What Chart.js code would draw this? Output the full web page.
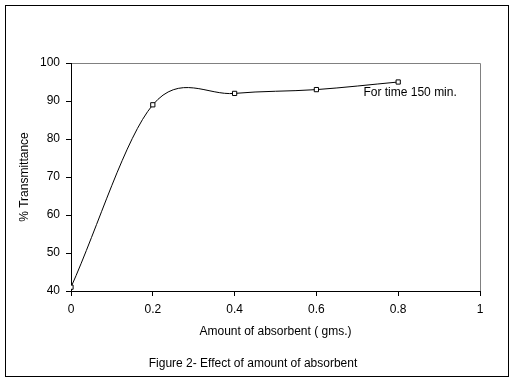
<!DOCTYPE html>
<html>
<head>
<meta charset="utf-8">
<script src="https://cdn.jsdelivr.net/npm/chart.js@4/dist/chart.umd.min.js"></script>
<style>
html,body{margin:0;padding:0;background:#fff;}
#wrap{width:516px;height:383px;position:relative;}
</style>
</head>
<body>
<div id="wrap"><canvas id="c" width="516" height="383"></canvas></div>
<script>
const amounts = [0, 0.2, 0.4, 0.6, 0.8];
const transmittance = [41, 89, 92, 93, 95];
const xTicks = [0, 0.2, 0.4, 0.6, 0.8, 1];
const yTicks = [40, 50, 60, 70, 80, 90, 100];
const xTitle = 'Amount of absorbent ( gms.)';
const yTitle = '% Transmittance';
const caption = 'Figure 2- Effect of amount of absorbent';
const annotationText = 'For time 150 min.';
const annotationAt = [0.715, 91.3];

const FONT = '12px "Liberation Sans", Arial, sans-serif';

// Excel-style smoothing: Catmull-Rom control points from the library's own point positions
const excelSmooth = {
  id: 'excelSmooth',
  beforeDatasetDraw(chart, args) {
    const meta = args.meta;
    const line = meta.dataset;
    if (line && typeof line.updateControlPoints === 'function') {
      line.updateControlPoints(chart.chartArea, meta.indexAxis);
    }
    const pts = meta.data;
    const n = pts.length;
    for (let i = 0; i < n; i++) {
      const p = pts[i];
      if (i === 0) {
        const nx = pts[1];
        p.cp1x = p.x; p.cp1y = p.y;
        p.cp2x = p.x + (nx.x - p.x) / 3; p.cp2y = p.y + (nx.y - p.y) / 3;
      } else if (i === n - 1) {
        const pv = pts[i - 1];
        p.cp1x = p.x - (p.x - pv.x) / 3; p.cp1y = p.y - (p.y - pv.y) / 3;
        p.cp2x = p.x; p.cp2y = p.y;
      } else {
        const pv = pts[i - 1], nx = pts[i + 1];
        const dx = (nx.x - pv.x) / 6, dy = (nx.y - pv.y) / 6;
        p.cp1x = p.x - dx; p.cp1y = p.y - dy;
        p.cp2x = p.x + dx; p.cp2y = p.y + dy;
      }
    }
    if (line) { line._path = undefined; }
  }
};

const decor = {
  id: 'decor',
  beforeDraw(chart) {
    const ctx = chart.ctx, a = chart.chartArea;
    ctx.save();
    ctx.fillStyle = '#fff';
    ctx.fillRect(0, 0, chart.width, chart.height);
    ctx.strokeStyle = '#000';
    ctx.lineWidth = 1;
    ctx.strokeRect(5.5, 5.5, 503, 371);
    ctx.strokeStyle = '#808080';
    ctx.beginPath();
    ctx.moveTo(Math.round(a.left) + 0.5, Math.round(a.top) + 0.5);
    ctx.lineTo(Math.round(a.right) + 0.5, Math.round(a.top) + 0.5);
    ctx.lineTo(Math.round(a.right) + 0.5, Math.round(a.bottom) + 0.5);
    ctx.stroke();
    ctx.restore();
  },
  afterDraw(chart) {
    const ctx = chart.ctx, a = chart.chartArea;
    const xs = chart.scales.x, ys = chart.scales.y;
    ctx.save();
    ctx.fillStyle = '#000';
    ctx.font = FONT;
    ctx.textAlign = 'center';
    ctx.textBaseline = 'middle';
    ctx.fillText(xTitle, (a.left + a.right) / 2, 332);
    ctx.fillText(caption, 253, 364);
    ctx.save();
    ctx.translate(25, (a.top + a.bottom) / 2);
    ctx.rotate(-Math.PI / 2);
    ctx.fillText(yTitle, 0, 0);
    ctx.restore();
    ctx.textAlign = 'left';
    ctx.textBaseline = 'alphabetic';
    ctx.fillText(annotationText, xs.getPixelForValue(annotationAt[0]), ys.getPixelForValue(annotationAt[1]));
    ctx.restore();
  }
};

new Chart(document.getElementById('c'), {
  type: 'line',
  data: {
    labels: amounts,
    datasets: [{
      data: amounts.map((x, i) => ({x: x, y: transmittance[i]})),
      borderColor: '#000',
      borderWidth: 1,
      tension: 0.4,
      pointStyle: 'rect',
      pointRadius: 3,
      pointBorderWidth: 1,
      pointBackgroundColor: '#fff',
      pointBorderColor: '#000',
      fill: false
    }]
  },
  options: {
    responsive: false,
    animation: false,
    devicePixelRatio: 1,
    layout: {padding: {top: 63, right: 36, left: 0, bottom: 0}},
    plugins: {legend: {display: false}, tooltip: {enabled: false}, title: {display: false}},
    scales: {
      x: {
        type: 'linear',
        min: 0, max: 1,
        afterBuildTicks(s) { s.ticks = xTicks.map(v => ({value: v})); },
        afterFit(s) { s.height = 92; },
        grid: {drawOnChartArea: false, drawTicks: true, tickLength: 5, color: '#000'},
        border: {display: true, color: '#000', width: 1},
        ticks: {color: '#000', font: {family: '"Liberation Sans", Arial, sans-serif', size: 12}, padding: 6, maxRotation: 0,
          callback: v => String(v)}
      },
      y: {
        type: 'linear',
        min: 40, max: 100,
        afterBuildTicks(s) { s.ticks = yTicks.map(v => ({value: v})); },
        afterFit(s) { s.width = 71; },
        grid: {drawOnChartArea: false, drawTicks: true, tickLength: 5, color: '#000'},
        border: {display: true, color: '#000', width: 1},
        ticks: {color: '#000', font: {family: '"Liberation Sans", Arial, sans-serif', size: 12}, padding: 6,
          callback: v => String(v)}
      }
    }
  },
  plugins: [excelSmooth, decor]
});
</script>
</body>
</html>
